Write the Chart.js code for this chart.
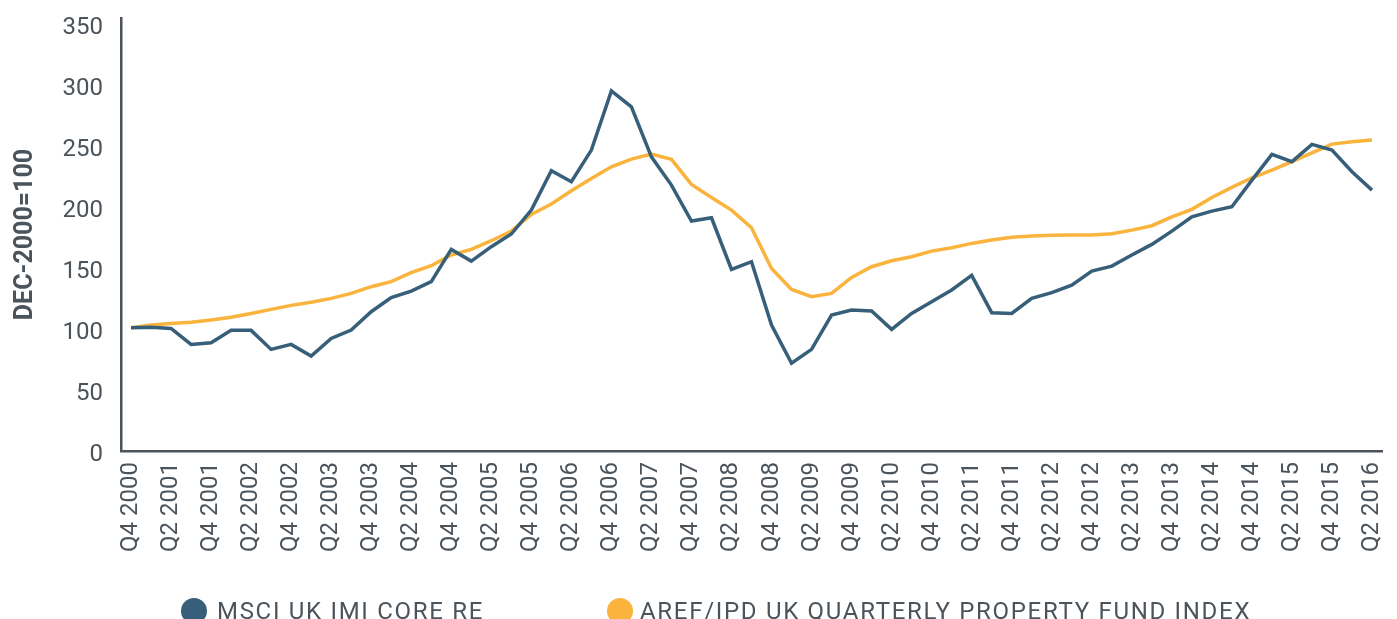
<!DOCTYPE html>
<html>
<head>
<meta charset="utf-8">
<script src="https://cdn.jsdelivr.net/npm/chart.js@4"></script>
<style>
    html, body { margin: 0; padding: 0; background: #fff; overflow: hidden; }
    #wrap { position: relative; width: 1397px; height: 619px; }
    #legend { position: absolute; left: 181px; top: 598px; font-family: Roboto, sans-serif; font-size: 24px; color: #4b535b; letter-spacing: 1.7px; white-space: nowrap; }
    .item { position: absolute; top: 0; }
    .dot { position: absolute; top: 0; width: 26px; height: 26px; border-radius: 50%; }
    .txt { position: absolute; top: -1px; line-height: 28px; }
</style>
</head>
<body>
<div id="wrap">
    <canvas id="propChart" width="1397" height="619"></canvas>
    <div id="legend"></div>
</div>
<script>
// quarters, Q4 2000 .. Q2 2016
const quarters = [
    'Q4 2000',
    'Q1 2001', 'Q2 2001', 'Q3 2001', 'Q4 2001',
    'Q1 2002', 'Q2 2002', 'Q3 2002', 'Q4 2002',
    'Q1 2003', 'Q2 2003', 'Q3 2003', 'Q4 2003',
    'Q1 2004', 'Q2 2004', 'Q3 2004', 'Q4 2004',
    'Q1 2005', 'Q2 2005', 'Q3 2005', 'Q4 2005',
    'Q1 2006', 'Q2 2006', 'Q3 2006', 'Q4 2006',
    'Q1 2007', 'Q2 2007', 'Q3 2007', 'Q4 2007',
    'Q1 2008', 'Q2 2008', 'Q3 2008', 'Q4 2008',
    'Q1 2009', 'Q2 2009', 'Q3 2009', 'Q4 2009',
    'Q1 2010', 'Q2 2010', 'Q3 2010', 'Q4 2010',
    'Q1 2011', 'Q2 2011', 'Q3 2011', 'Q4 2011',
    'Q1 2012', 'Q2 2012', 'Q3 2012', 'Q4 2012',
    'Q1 2013', 'Q2 2013', 'Q3 2013', 'Q4 2013',
    'Q1 2014', 'Q2 2014', 'Q3 2014', 'Q4 2014',
    'Q1 2015', 'Q2 2015', 'Q3 2015', 'Q4 2015',
    'Q1 2016', 'Q2 2016'
];

const msciCore = [
    101,
    101.5, 100.5, 87.4, 88.8,
    98.9, 98.9, 83.3, 87.4,
    77.9, 92.3, 99.2, 114.2,
    125.7, 131.1, 138.8, 165.3,
    155.7, 167.5, 177.9, 197.5,
    229.8, 220.8, 246.7, 295.3,
    282.2, 241.2, 218, 188.5,
    191.2, 148.9, 155.2, 103.3,
    71.9, 83.3, 111.5, 115.6,
    114.8, 99.7, 112.8, 122.4,
    132, 144, 113.4, 112.8,
    125.1, 129.8, 136, 147.5,
    151.6, 160.7, 169.4, 180.3,
    192, 196.7, 200.3, 222.1,
    243.2, 237.2, 251.4, 246.7,
    229, 213.9
];

const arefIpd = [
    101,
    103.3, 104.6, 105.5, 107.4,
    109.6, 112.8, 116.1, 119.4,
    121.9, 125.1, 129.2, 134.7,
    138.8, 146.2, 151.9, 160.7,
    165.3, 172.4, 180.3, 194,
    202.5, 213.4, 223.5, 233,
    239.3, 243.4, 239.1, 218.6,
    207.9, 197.5, 183, 149.7,
    132.5, 126.5, 129.2, 142.3,
    151.1, 156, 159.3, 163.9,
    166.7, 170.2, 173, 175.2,
    176.2, 176.8, 177, 177,
    178.1, 181.1, 184.7, 192,
    198.1, 207.9, 216.1, 224,
    230.3, 237.2, 244.5, 251.6,
    253.5, 254.9
];

const seriesNames = ['MSCI UK IMI CORE RE', 'AREF/IPD UK QUARTERLY PROPERTY FUND INDEX'];
const seriesColors = ['#375f79', '#fab33c'];
const yTicks = [0, 50, 100, 150, 200, 250, 300, 350];

const ink = '#4b535b';

const ctx = document.getElementById('propChart').getContext('2d');
const myChart = new Chart(ctx, {
    type: 'line',
    data: {
        labels: quarters,
        datasets: [
            { label: seriesNames[0], data: msciCore, borderColor: seriesColors[0], backgroundColor: seriesColors[0] },
            { label: seriesNames[1], data: arefIpd, borderColor: seriesColors[1], backgroundColor: seriesColors[1] }
        ]
    },
    options: {
        responsive: false,
        animation: false,
        layout: { padding: { top: 18, right: 15, bottom: 0, left: 0 } },
        elements: {
            line: { borderWidth: 3.5, tension: 0, borderJoinStyle: 'miter' },
            point: { radius: 0 }
        },
        plugins: {
            legend: { display: false },
            tooltip: { enabled: false }
        },
        scales: {
            x: {
                offset: true,
                grid: { display: false, drawTicks: false },
                border: { display: true, color: ink, width: 2.5 },
                ticks: {
                    autoSkip: false,
                    maxRotation: 90,
                    minRotation: 90,
                    padding: 11,
                    color: ink,
                    font: { family: 'Roboto', size: 24 },
                    callback: (val, i) => (i % 2 === 0 ? quarters[i] : '')
                },
                afterFit: scale => {
                    scale.height = 168;
                    scale.paddingLeft = 0;
                    scale.paddingRight = 0;
                }
            },
            y: {
                min: 0,
                max: 355,
                grid: { display: false, drawTicks: false },
                border: { display: true, color: ink, width: 2.5 },
                afterBuildTicks: scale => {
                    scale.ticks = yTicks.map(v => ({ value: v }));
                },
                ticks: {
                    padding: 18,
                    labelOffset: 4,
                    color: ink,
                    font: { family: 'Roboto', size: 24 }
                },
                title: {
                    display: true,
                    text: 'DEC-2000=100',
                    color: ink,
                    font: { family: 'Roboto', size: 25, weight: 'bold' },
                    padding: { top: 11, bottom: 0 }
                },
                afterFit: scale => {
                    scale.width = 121;
                    scale.paddingTop = 0;
                    scale.paddingBottom = 0;
                }
            }
        }
    }
});

// legend drawn as html below the plot (cut off by the window like the original)
const legendEl = document.getElementById('legend');
const legendPos = [{ dot: 0, text: 36 }, { dot: 426, text: 459 }];
seriesNames.forEach((name, i) => {
    const item = document.createElement('div');
    item.className = 'item';
    item.innerHTML = `<span class="dot" style="left:${legendPos[i].dot}px;background:${seriesColors[i]}"></span>` +
        `<span class="txt" style="left:${legendPos[i].text}px">${name}</span>`;
    legendEl.appendChild(item);
});
</script>
</body>
</html>
